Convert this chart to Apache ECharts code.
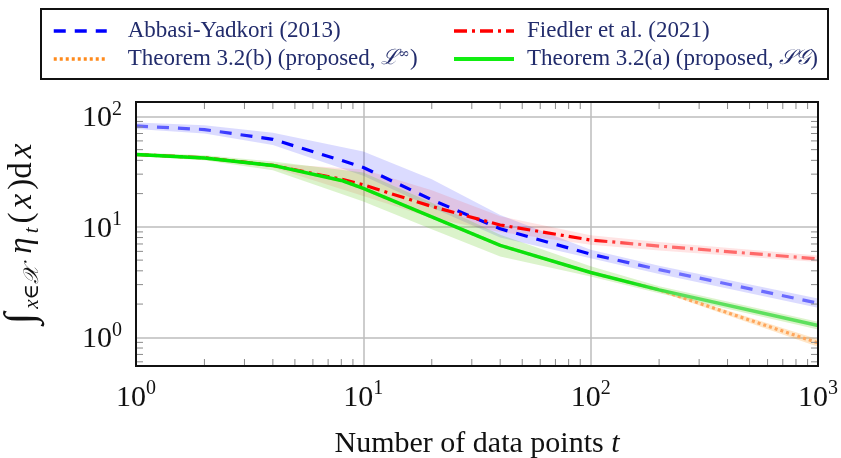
<!DOCTYPE html>
<html><head><meta charset="utf-8">
<script src="https://cdn.jsdelivr.net/npm/echarts@6/dist/echarts.min.js"></script>
<style>html,body{margin:0;padding:0;background:#fff}#c{width:841px;height:458px}</style>
</head><body><div id="c"></div>
<script>
// ---- data ----
const seriesNames = ['Abbasi-Yadkori (2013)', 'Fiedler et al. (2021)', 'Theorem 3.2(b) (proposed, ℒ∞)', 'Theorem 3.2(a) (proposed, 𝒮𝒢)'];
const tLine = [1, 2, 4, 8, 10, 20, 40, 100, 200, 1000];
const abbasiMean  = [82, 76, 62, 40, 34.5, 17.6, 9.6, 5.66, 4.1, 2.04];
const fiedlerMean = [45.2, 42.2, 36, 27, 24, 15.3, 10.4, 7.6, 6.7, 5.13];
const thmBMean    = [45.2, 42, 36, 26.3, 22.3, 12.3, 6.8, 3.86, 2.69, 0.89];
const thmAMean    = [45.2, 42, 36, 26.3, 22.3, 12.3, 6.8, 3.86, 2.69, 1.28];

const tBand = [1, 2, 4, 10, 20, 40, 100, 200, 1000];
const abbasiUpper  = [88, 83, 71, 48, 27, 12.8, 6.2, 4.45, 2.25];
const abbasiLower  = [77, 70, 55, 29, 15, 8.0, 5.2, 3.75, 1.85];
const fiedlerUpper = [46, 43.5, 37.5, 33, 21.5, 12.5, 8.4, 7.3, 5.5];
const fiedlerLower = [44.3, 41, 34.5, 19, 12, 9.0, 6.9, 6.1, 4.8];
const thmAUpper    = [47, 44.5, 39, 31, 16.5, 8.5, 4.4, 2.9, 1.38];
const thmALower    = [43.5, 40, 32.5, 17, 9.5, 5.4, 3.55, 2.5, 1.18];
const tBandB       = [200, 1000];
const thmBUpper    = [2.75, 0.96];
const thmBLower    = [2.6, 0.82];

const xTicks = [1, 10, 100, 1000];
const yTicks = [1, 10, 100];
const xMinorTicks = [2,3,4,5,6,7,8,9,20,30,40,50,60,70,80,90,200,300,400,500,600,700,800,900];
const yMinorTicks = [0.6,0.7,0.8,0.9,2,3,4,5,6,7,8,9,20,30,40,50,60,70,80,90];

// ---- config ----
const X_MIN = 1, X_MAX = 1000, Y_MIN = 0.55, Y_MAX = 135;
const SERIF = '"Liberation Serif", "DejaVu Serif", serif';

const chart = echarts.init(document.getElementById('c'), null, {renderer: 'canvas'});

function pairs(xs, ys) { return xs.map((x, i) => [x, ys[i]]); }
function grad(stops) {
  return new echarts.graphic.LinearGradient(0, 0, 1, 0, stops.map(s => ({offset: s[0], color: s[1]})));
}
function isPow10(v, list) {
  return list.some(p => Math.abs(v - p) / p < 1e-6);
}
function tickFmt(list) {
  return v => isPow10(v, list) ? '{b|10}{s|' + Math.round(Math.log10(v)) + '}' : '';
}
const tickRich = {
  b: {fontFamily: SERIF, fontSize: 30, color: '#111', verticalAlign: 'bottom', lineHeight: 34},
  s: {fontFamily: SERIF, fontSize: 20, color: '#111', verticalAlign: 'top', lineHeight: 20}
};

function band(name, ts, up, lo, fill) {
  return {
    type: 'custom', name: name, silent: true, clip: true, z: 1,
    data: [[10, 10]],
    renderItem: function (params, api) {
      const pts = [];
      for (let i = 0; i < ts.length; i++) pts.push(api.coord([ts[i], up[i]]));
      for (let i = ts.length - 1; i >= 0; i--) pts.push(api.coord([ts[i], lo[i]]));
      return {type: 'polygon', shape: {points: pts}, style: {fill: fill}};
    }
  };
}

function line(name, ys, color, width, dash, z) {
  return {
    type: 'line', name: name, data: pairs(tLine, ys), symbol: 'none', showSymbol: false,
    smooth: false, z: z, silent: true,
    lineStyle: {color: color, width: width, type: dash, cap: 'butt'}
  };
}

const frameSeries = {
  type: 'custom', name: 'frame', silent: true, clip: false, z: 10,
  data: [[10, 10]],
  renderItem: function (params, api) {
    const bl = api.coord([X_MIN, Y_MIN]);
    const tr = api.coord([X_MAX, Y_MAX]);
    const children = [];
    const tickStyle = {stroke: '#8a8a8a', lineWidth: 1};
    const L = 7;
    xMinorTicks.forEach(t => {
      const x = api.coord([t, 1])[0];
      children.push({type: 'line', shape: {x1: x, y1: bl[1], x2: x, y2: bl[1] - L}, style: tickStyle});
      children.push({type: 'line', shape: {x1: x, y1: tr[1], x2: x, y2: tr[1] + L}, style: tickStyle});
    });
    yMinorTicks.forEach(v => {
      const y = api.coord([1, v])[1];
      children.push({type: 'line', shape: {x1: bl[0], y1: y, x2: bl[0] + L, y2: y}, style: tickStyle});
      children.push({type: 'line', shape: {x1: tr[0], y1: y, x2: tr[0] - L, y2: y}, style: tickStyle});
    });
    children.push({type: 'rect', shape: {x: bl[0], y: tr[1], width: tr[0] - bl[0], height: bl[1] - tr[1]},
      style: {fill: null, stroke: '#111', lineWidth: 2}});
    return {type: 'group', children: children};
  }
};

const LEG_COLOR = '#222c6c';
const legendText = {
  fontFamily: SERIF, fontSize: 23, color: LEG_COLOR, lineHeight: 24,
  rich: {
    cal: {fontFamily: '"DejaVu Serif", serif', fontStyle: 'italic', fontSize: 21, color: LEG_COLOR},
    sup: {fontFamily: '"DejaVu Serif", serif', fontSize: 14, color: LEG_COLOR, verticalAlign: 'top', lineHeight: 14}
  }
};
function legendFmt(name) {
  if (name.indexOf('ℒ∞') >= 0) return name.replace('ℒ∞', '{cal|ℒ}{sup|∞}');
  if (name.indexOf('𝒮𝒢') >= 0) return name.replace('𝒮𝒢', '{cal|𝒮𝒢}');
  return name;
}
const hideSym = {opacity: 0, color: 'rgba(0,0,0,0)', borderWidth: 0};
const PAD = [0, 2, 0, 2];

const option = {
  backgroundColor: '#fff',
  animation: false,
  grid: {left: 136, right: 23, top: 102, bottom: 92, containLabel: false, outerBoundsMode: 'none'},
  legend: [
    {
      data: [
        {name: seriesNames[0], itemStyle: hideSym, lineStyle: {color: '#0000ff', width: 3.5, type: [12, 9]}},
        {name: seriesNames[2], itemStyle: hideSym, lineStyle: {color: '#ff8a1c', width: 3.5, type: [3, 3]}}
      ],
      orient: 'vertical', left: 47, top: 14, itemWidth: 53, itemHeight: 14, itemGap: 4,
      selectedMode: false, formatter: legendFmt,
      textStyle: Object.assign({padding: [0, 0, 0, 16]}, legendText)
    },
    {
      data: [
        {name: seriesNames[1], itemStyle: hideSym, lineStyle: {color: '#ff0000', width: 3.5, type: [13, 5, 3, 5]}},
        {name: seriesNames[3], itemStyle: hideSym, lineStyle: {color: '#11ee11', width: 4, type: 'solid'}}
      ],
      orient: 'vertical', left: 447, top: 14, itemWidth: 60, itemHeight: 14, itemGap: 4,
      selectedMode: false, formatter: legendFmt,
      textStyle: Object.assign({padding: [0, 0, 0, 8]}, legendText)
    }
  ],
  graphic: [{
    type: 'rect', shape: {x: 41, y: 9, width: 787, height: 70},
    style: {fill: null, stroke: '#111', lineWidth: 2}, z: 0
  }],
  xAxis: {
    type: 'log', logBase: 10, min: X_MIN, max: X_MAX,
    axisLine: {show: false}, axisTick: {show: false},
    splitLine: {show: true, lineStyle: {color: '#bdbdbd', width: 1.5}},
    axisLabel: {formatter: tickFmt(xTicks), rich: tickRich, margin: 13, showMinLabel: true, showMaxLabel: true},
    name: 'Number of data points {i|t}', nameLocation: 'middle', nameGap: 63,
    nameTextStyle: {fontFamily: SERIF, fontSize: 30, color: '#111',
      rich: {i: {fontFamily: SERIF, fontStyle: 'italic', fontSize: 30, color: '#111'}}}
  },
  yAxis: {
    type: 'log', logBase: 10, min: Y_MIN, max: Y_MAX,
    axisLine: {show: false}, axisTick: {show: false},
    splitLine: {show: true, lineStyle: {color: '#bdbdbd', width: 1.5}},
    axisLabel: {formatter: tickFmt(yTicks), rich: tickRich, margin: 14},
    name: '{int|∫}{sub|x∈𝒳}{it| η}{sub|t}{rm|(}{it|x}{rm|)d}{it|x}',
    nameLocation: 'middle', nameGap: 93,
    nameTextStyle: {
      fontFamily: SERIF, fontSize: 33, color: '#111', padding: [0, 0, 0, 0],
      rich: {
        int: {fontFamily: SERIF, fontSize: 42, fontStyle: 'italic', color: '#111', padding: PAD},
        sub: {fontFamily: SERIF, fontSize: 21, fontStyle: 'italic', color: '#111', verticalAlign: 'bottom', padding: PAD},
        it: {fontFamily: SERIF, fontSize: 33, fontStyle: 'italic', color: '#111', padding: PAD},
        rm: {fontFamily: SERIF, fontSize: 33, color: '#111', padding: PAD}
      }
    }
  },
  series: [
    band('band-abbasi', tBand, abbasiUpper, abbasiLower, 'rgba(40,40,255,0.17)'),
    band('band-fiedler', tBand, fiedlerUpper, fiedlerLower, 'rgba(255,30,30,0.12)'),
    band('band-thmB', tBandB, thmBUpper, thmBLower, 'rgba(255,140,0,0.22)'),
    band('band-thmA', tBand, thmAUpper, thmALower, 'rgba(90,200,20,0.22)'),
    line(seriesNames[0], abbasiMean, grad([[0, '#6a6aff'], [0.12, '#4a4aff'], [0.2, '#0000ff'], [0.66, '#0000ff'], [0.76, '#6f6fff'], [1, '#6a6aff']]), 3.2, [12, 9], 3),
    line(seriesNames[1], fiedlerMean, grad([[0, '#ff0000'], [0.66, '#ff0000'], [0.73, '#ff6a6a'], [1, '#ff6a6a']]), 3.2, [13, 5, 3, 5], 4),
    line(seriesNames[2], thmBMean, '#ffa65c', 3.2, [3, 3], 5),
    line(seriesNames[3], thmAMean, grad([[0, '#00e600'], [0.72, '#10e010'], [0.8, '#5ee05e'], [1, '#5ee05e']]), 3.5, 'solid', 6),
    frameSeries
  ]
};
chart.setOption(option);
</script>
</body></html>
